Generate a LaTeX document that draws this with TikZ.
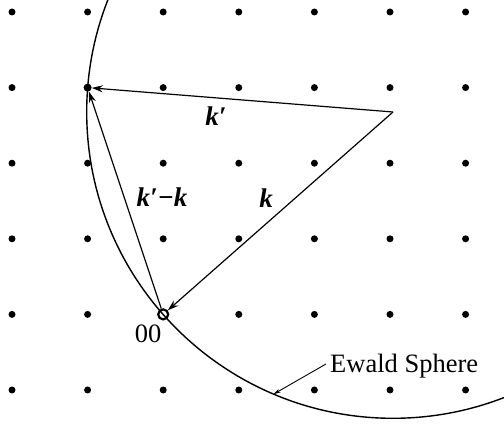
\documentclass[tikz,border=0pt]{standalone}
\usepackage{fontspec}
\setmainfont{Liberation Serif}
\usetikzlibrary{arrows.meta}
\begin{document}
\begin{tikzpicture}[x=1pt,y=-1pt,
  latt/.style={circle,fill=black,inner sep=0pt,minimum size=7pt},
  vec/.style={line width=1.2pt,-{Stealth[length=11pt,width=7pt]}},
  lbl/.style={font=\fontsize{27}{31}\selectfont\bfseries\itshape},
  txt/.style={font=\fontsize{26.5}{30}\selectfont}]
\useasboundingbox (0,0) rectangle (504,427);
% lattice
\foreach \i in {0,...,6}{
  \foreach \j in {0,...,5}{
    \node[latt] (d-\i-\j) at (12+75.6*\i,12+75.6*\j) {};
  }
}
\coordinate (C) at (393,112);
\node[circle,draw=black,fill=white,line width=2.2pt,inner sep=0pt,minimum size=10pt] (O) at (163.2,314.4) {};
\node[circle,fill=black,inner sep=0pt,minimum size=8pt] (P) at (87.6,87.6) {};
% Ewald sphere
\begin{scope}
\clip (0,0) rectangle (504,427);
\draw[line width=1.4pt] (C) circle[radius=306.3];
\end{scope}
% vectors
\draw[vec] (C) -- (P);
\draw[vec] (C) -- (O);
\draw[vec] (O) -- (P);
% labels
\node[lbl] (lkp) at (216,116) {k′};
\node[lbl] (lkpk) at (162,197) {k′−k};
\node[lbl] (lk) at (266,198) {k};
\node[txt] (l00) at (148,334) {00};
\node[txt,anchor=base west,inner sep=0pt] (ew) at (330,373) {Ewald Sphere};
\coordinate (A) at (273.6,394.1);
\draw[line width=0.9pt,-{Stealth[length=7pt,width=4pt]}] (326,364) -- (A);
\end{tikzpicture}
\end{document}
